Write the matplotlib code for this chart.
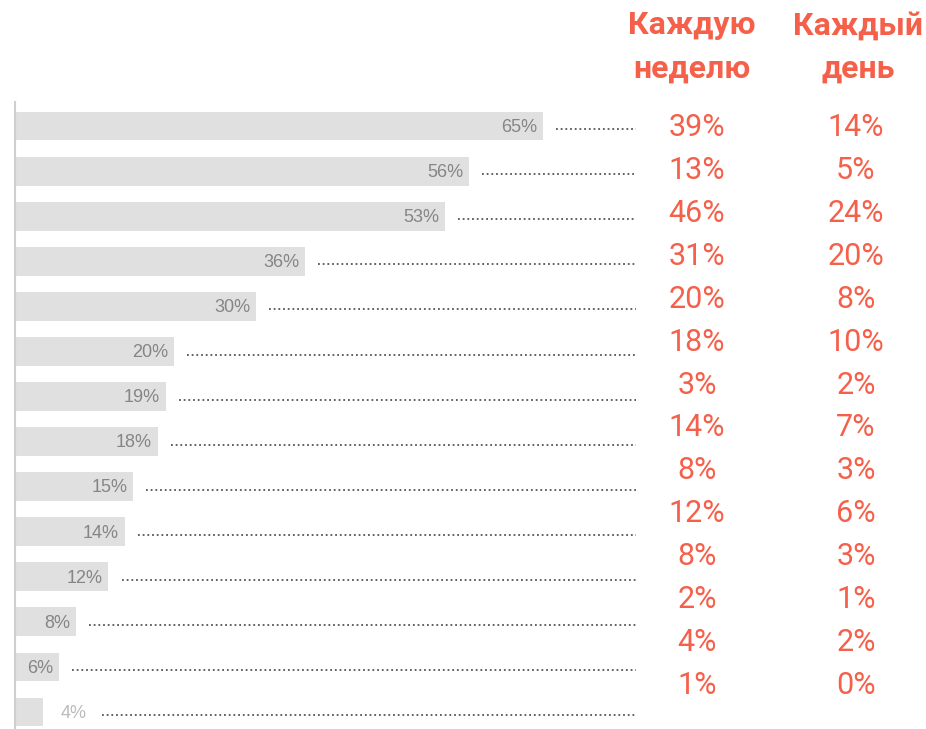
import matplotlib.pyplot as plt
import matplotlib.transforms as mtransforms

# share of respondents (grey bars)
bar_values = [65, 56, 53, 36, 30, 20, 19, 18, 15, 14, 12, 8, 6, 4]
# right-hand columns
weekly = [39, 13, 46, 31, 20, 18, 3, 14, 8, 12, 8, 2, 4, 1]
daily = [14, 5, 24, 20, 8, 10, 2, 7, 3, 6, 3, 1, 2, 0]
headers = ["Каждую\nнеделю", "Каждый\nдень"]

RED = "#F4604A"
BAR = "#E0E0E0"
W, H = 926, 729

fig = plt.figure(figsize=(W / 100, H / 100), dpi=100)
fig.patch.set_facecolor("white")

# bars: data 0 sits at pixel 10, 8.2 px per percent
px_per = 8.2
x0 = 10
top_px = 101
ax = fig.add_axes([14 / W, 0, 1 - 14 / W, 1 - top_px / H])
ax.set_xlim((14 - x0) / px_per, (W - x0) / px_per)
row_top, row_step = 126, 45.08
ax.set_ylim((H - row_top) / row_step, (top_px - row_top) / row_step)
ax.set_axis_off()
ax.axvline(ax.get_xlim()[0], color="#CFCFCF", lw=3, zorder=3)

rows = list(range(len(bar_values)))
ax.barh(rows, bar_values, height=0.64, color=BAR, zorder=1)

leader_end = (636 - x0) / px_per
for i, v in enumerate(bar_values):
    if v >= 5:
        ax.text(v - 0.7, i + 0.03, f"{v}%", ha="right", va="center",
                fontsize=13, color="#858585", family="Liberation Sans")
        start = v + 1.6
    else:
        ax.text(v + 2.2, i + 0.03, f"{v}%", ha="left", va="center",
                fontsize=13, color="#BBBBBB", family="Liberation Sans")
        start = v + 7.2
    ax.plot([start, leader_end], [i + 0.07, i + 0.07], color="#555555",
            lw=1.3, linestyle=(0, (1, 1.6)), solid_capstyle="butt")

# red columns, own vertical spacing
ax2 = fig.add_axes(ax.get_position())
ax2.set_xlim(ax.get_xlim())
num_top, num_step = 128, 42.85
ax2.set_ylim((H - num_top) / num_step, (top_px - num_top) / num_step)
ax2.set_axis_off()
col_x = [(697 - x0) / px_per, (856 - x0) / px_per]
for j, col in enumerate([weekly, daily]):
    for i, v in enumerate(col):
        ax2.text(col_x[j], i, f"{v}%", ha="center", va="center",
                 fontsize=22, color=RED, family="Roboto")

trans = mtransforms.blended_transform_factory(ax.transData, fig.transFigure)
head_x = [(692 - x0) / px_per, (858 - x0) / px_per]
for hx, h in zip(head_x, headers):
    ax.text(hx, 1 - 47 / H, h, transform=trans, ha="center", va="center",
            fontsize=23, fontweight="bold", color=RED, family="Roboto",
            linespacing=1.55)

fig.savefig("out.png", dpi=100, facecolor="white")
